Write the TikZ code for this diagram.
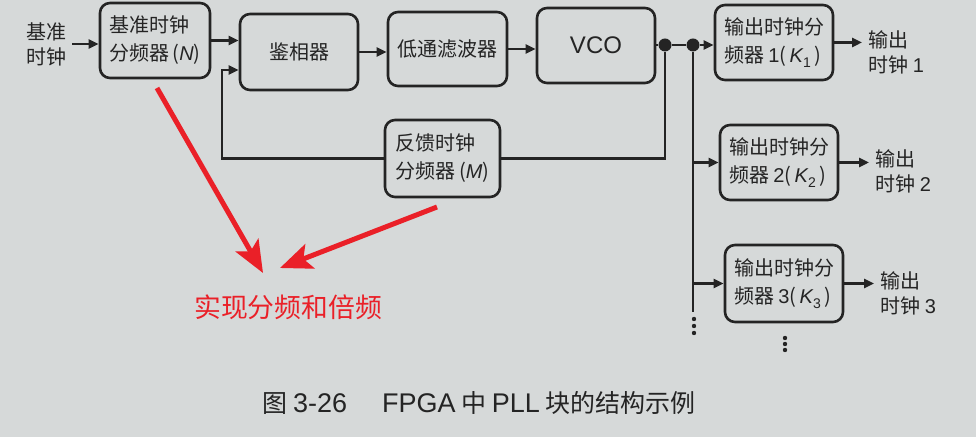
\documentclass[tikz,border=0pt]{standalone}
\usepackage{fontspec}
\setmainfont{Noto Sans CJK SC}
\newfontfamily\lat{Liberation Sans}
\usetikzlibrary{arrows.meta}
\definecolor{paper}{RGB}{214,217,217}
\definecolor{ink}{RGB}{36,36,36}
\definecolor{anno}{RGB}{234,32,40}
\newcommand{\li}[1]{{\lat\itshape #1}}
\newcommand{\ks}[1]{\raisebox{-0.4ex}{\lat\fontsize{7}{8}\selectfont #1}}
\begin{document}
\begin{tikzpicture}[x=0.5pt,y=-0.5pt,
 blk/.style={draw=ink, line width=1.3pt, rounded corners=5pt, minimum height=37.5pt,
   inner sep=3pt, align=left, font=\fontsize{10}{14}\selectfont, text=ink},
 lbl/.style={align=left, font=\fontsize{10}{12.5}\selectfont, text=ink, inner sep=3pt},
 wire/.style={draw=ink, line width=1.2pt},
 arr/.style={wire, -{Triangle[length=5pt,width=4.5pt]}},
 junc/.style={circle, fill=ink, inner sep=0pt, minimum size=6.5pt},
 redarr/.style={draw=anno, line width=2.5pt, -{Stealth[length=16pt,width=13pt,inset=3.5pt]}}]

\fill[paper] (0,0) rectangle (976,437);
\useasboundingbox (0,0) rectangle (976,437);

% blocks
\node[lbl] (in) at (46,44) {基准\\时钟};
\node[blk, minimum width=55pt] (N) at (155,40.5) {基准时钟\\分频器\,(\li{N})};
\node[blk, minimum width=59pt, minimum height=38pt] (PD) at (299,52) {鉴相器};
\node[blk, minimum width=59.5pt, minimum height=37pt] (LPF) at (447.5,49) {低通滤波器};
\node[blk, minimum width=59pt] (VCO) at (596,45.5) {\lat\fontsize{12}{14}\selectfont VCO};
\node[junc] (d1) at (665,45) {};
\node[junc] (d2) at (693,45) {};
\node[blk, minimum width=59pt] (K1) at (774,42.5) {输出时钟分\\频器 {\lat 1}(\,\li{K}\ks{1}\,)};
\node[blk, minimum width=59pt] (K2) at (779,162.5) {输出时钟分\\频器 {\lat 2}(\,\li{K}\ks{2}\,)};
\node[blk, minimum width=59pt, minimum height=38.5pt] (K3) at (784,283.5) {输出时钟分\\频器 {\lat 3}(\,\li{K}\ks{3}\,)};
\node[blk, minimum width=57.5pt, minimum height=38.5pt] (M) at (442.5,158.5) {反馈时钟\\分频器\,(\li{M})};

% outputs
\node[lbl, anchor=west] (o1) at (862,52) {输出\\时钟 {\lat 1}};
\node[lbl, anchor=west] (o2) at (869,171) {输出\\时钟 {\lat 2}};
\node[lbl, anchor=west] (o3) at (874,293) {输出\\时钟 {\lat 3}};

% connectors
\draw[arr] (in.east) -- (in.east -| N.west);
\draw[arr] (N.east) -- (N.east -| PD.west);
\draw[arr] (PD.east) -- (PD.east -| LPF.west);
\draw[arr] (LPF.east) -- (LPF.east -| VCO.west);
\draw[wire] (VCO.east |- d1) -- (d1) -- (d2);
\draw[arr] (d2) -- (d2 -| K1.west);
\draw[wire] (d1) |- (M.east);
\coordinate (fb) at (222,70);
\draw[arr] (M.west) -| (fb) -- (fb -| PD.west);
\coordinate (tb) at (693,312);
\draw[wire] (d2) -- (tb);
\draw[arr] (tb |- K2.west) -- (K2.west);
\draw[arr] (tb |- K3.west) -- (K3.west);
\draw[arr] (K1.east) -- (K1.east -| o1.west);
\draw[arr] (K2.east) -- (K2.east -| o2.west);
\draw[arr] (K3.east) -- (K3.east -| o3.west);

% continuation dots
\foreach \yy in {319,326,333} \fill[ink] (694,\yy) circle (1.1pt);
\foreach \yy in {338,344,350} \fill[ink] (785,\yy) circle (1.1pt);

% annotation
\node[text=anno, font=\fontsize{13.4}{16}\selectfont, inner sep=0pt] (note) at (288,307) {实现分频和倍频};
\coordinate (r1s) at (157,88);
\coordinate (r1e) at (263,273);
\coordinate (r2s) at (437,207);
\coordinate (r2e) at (280,268);
\draw[redarr] (r1s) -- (r1e);
\draw[redarr] (r2s) -- (r2e);

% caption
\node[anchor=west, inner sep=0pt, text=ink, font=\fontsize{12.5}{14}\selectfont] (cap) at (262,403)
  {图 {\lat\fontsize{13.5}{14}\selectfont 3-26}\hspace{1.4em}{\lat\fontsize{13.5}{14}\selectfont FPGA} 中 {\lat\fontsize{13.5}{14}\selectfont PLL} 块的结构示例};
\end{tikzpicture}
\end{document}
